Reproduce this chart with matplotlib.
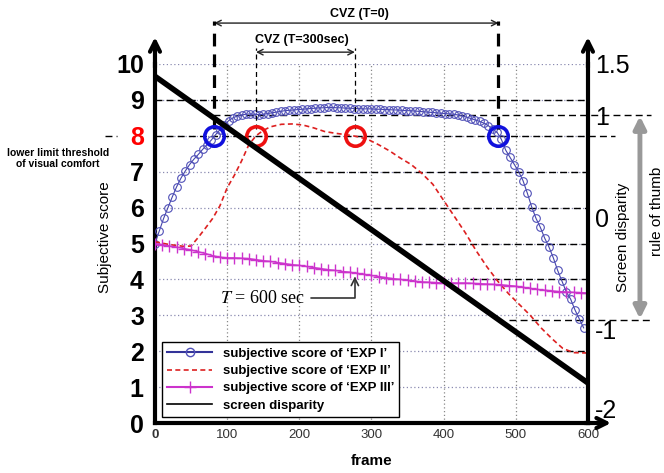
import numpy as np
import matplotlib
matplotlib.use('Agg')
import matplotlib.pyplot as plt
from matplotlib.lines import Line2D

plt.rcParams['font.family'] = ['Liberation Sans', 'DejaVu Sans']
plt.rcParams['mathtext.fontset'] = 'stix'

# EXP I : subjective score every 6 frames
exp1_frames = np.arange(0, 600, 6)
exp1_score = [5.00, 5.35, 5.70, 6.00, 6.30, 6.58, 6.82, 7.02, 7.20, 7.35,
              7.48, 7.62, 7.75, 7.88, 8.03, 8.17, 8.30, 8.42, 8.50, 8.55,
              8.58, 8.60, 8.61, 8.60, 8.59, 8.60, 8.62, 8.64, 8.66, 8.68,
              8.70, 8.71, 8.72, 8.73, 8.74, 8.75, 8.76, 8.77, 8.78, 8.78,
              8.79, 8.79, 8.78, 8.78, 8.77, 8.77, 8.76, 8.76, 8.75, 8.75,
              8.75, 8.74, 8.74, 8.73, 8.73, 8.72, 8.72, 8.71, 8.70, 8.70,
              8.69, 8.68, 8.67, 8.66, 8.65, 8.64, 8.63, 8.62, 8.61, 8.60,
              8.58, 8.55, 8.52, 8.48, 8.44, 8.40, 8.35, 8.28, 8.18, 8.10,
              7.90, 7.60, 7.40, 7.20, 7.00, 6.75, 6.40, 6.02, 5.70, 5.45,
              5.15, 4.90, 4.60, 4.25, 3.95, 3.65, 3.45, 3.15, 2.90, 2.65]

# EXP II
exp2_frames = [0, 20, 40, 50, 60, 70, 80, 90, 100, 110, 120, 130, 140, 150,
               160, 175, 190, 205, 220, 235, 250, 265, 280, 295, 310, 325,
               340, 355, 370, 385, 400, 415, 430, 445, 460, 475, 490, 505,
               520, 535, 550, 565, 580, 600]
exp2_score = [5.05, 4.97, 4.92, 4.93, 5.17, 5.43, 5.70, 6.05, 6.55, 6.90,
              7.30, 7.75, 8.00, 8.15, 8.25, 8.32, 8.33, 8.30, 8.22, 8.12,
              8.07, 8.03, 7.98, 7.90, 7.75, 7.58, 7.38, 7.20, 6.95, 6.65,
              6.20, 5.75, 5.30, 4.80, 4.35, 3.95, 3.60, 3.30, 3.00, 2.65,
              2.35, 2.08, 1.96, 1.95]

# EXP III : every 10 frames
exp3_frames = np.arange(0, 601, 10)
exp3_score = [5.00, 4.97, 4.93, 4.90, 4.86, 4.82, 4.77, 4.72, 4.66, 4.62,
              4.60, 4.60, 4.59, 4.58, 4.55, 4.52, 4.50, 4.47, 4.44, 4.41,
              4.39, 4.36, 4.33, 4.30, 4.27, 4.25, 4.22, 4.20, 4.17, 4.14,
              4.11, 4.08, 4.05, 4.02, 4.00, 3.98, 3.95, 3.93, 3.92, 3.91,
              3.90, 3.90, 3.90, 3.90, 3.89, 3.88, 3.87, 3.86, 3.85, 3.83,
              3.81, 3.78, 3.75, 3.72, 3.70, 3.68, 3.66, 3.65, 3.64, 3.63,
              3.62]

# screen disparity (right axis)
disp_frames = [0, 600]
disp_values = [1.38, -1.61]

# comfort-zone crossings
cvz0 = [82, 476]
cvz300 = [140, 277]
threshold = 8

fig = plt.figure(figsize=(6.64, 4.73), dpi=100)
ax = fig.add_axes([0.2334, 0.1057, 0.6521, 0.759])
ax2 = ax.twinx()

gridc = '#8a8ab0'
for v in range(1, 11):
    ax.axhline(v, color=gridc, ls=(0, (1, 2)), lw=0.9, zorder=0)
for f in range(100, 600, 100):
    ax.axvline(f, color='#888888', ls=(0, (1, 2)), lw=0.9, zorder=0)

# hand-drawn dashed guides
dash = dict(color='black', ls=(0, (5, 3)), lw=1.0, clip_on=False, zorder=1)
guides = [(9, 0, 600), (8.571, 80, 688), (8, 0, 637), (8, -69, -52),
          (7, 191, 600), (6, 256, 600), (5, 328, 600), (4, 436, 600),
          (2.857, 490, 688), (2, 554, 600)]
for yv, x0, x1 in guides:
    ax.plot([x0, x1], [yv, yv], **dash)

ax.plot(exp1_frames, exp1_score, color='#4444aa', lw=0.8, marker='o', ms=5.5,
        mfc='none', mec='#5050b8', mew=0.8, zorder=3)
ax.plot(exp2_frames, exp2_score, color='#dd2020', lw=1.2, ls=(0, (3, 2)), zorder=3)
ax.plot(exp3_frames, exp3_score, color='#cc33cc', lw=1.0, marker='+', ms=8,
        mew=1.0, zorder=3)
ax2.plot(disp_frames, disp_values, color='black', lw=4, zorder=4)

# crossing circles
ax.plot(cvz0, [threshold] * 2, 'o', ms=14, mfc='none', mec='#1010dd', mew=2.6,
        zorder=6, clip_on=False)
ax.plot(cvz300, [threshold] * 2, 'o', ms=14, mfc='none', mec='#ee1010', mew=2.6,
        zorder=6, clip_on=False)

# vertical guides and CVZ arrows
for f in cvz0:
    ax.plot([f, f], [threshold + 0.2, 11.2], color='black', ls=(0, (4, 2.5)),
            lw=2.3, clip_on=False, zorder=5)
for f in cvz300:
    ax.plot([f, f], [threshold + 0.2, 10.45], color='black', ls=(0, (4, 3)),
            lw=0.9, clip_on=False, zorder=5)
ax.annotate('', xy=(cvz0[0], 11.14), xytext=(cvz0[1], 11.14),
            arrowprops=dict(arrowstyle='<->', lw=1.0, color='#222222',
                            shrinkA=0, shrinkB=0), annotation_clip=False)
ax.annotate('', xy=(cvz300[0], 10.33), xytext=(cvz300[1], 10.33),
            arrowprops=dict(arrowstyle='<->', lw=1.0, color='#222222',
                            shrinkA=0, shrinkB=0), annotation_clip=False)
ax.text(284, 11.39, 'CVZ (T=0)', ha='center', va='center', fontsize=9,
        fontweight='bold', clip_on=False)
ax.text(204, 10.67, 'CVZ (T=300sec)', ha='center', va='center', fontsize=9,
        fontweight='bold', clip_on=False)

# T = 600 sec note
ax.annotate('$T$ = 600 sec', xy=(277, 4.12), xytext=(90, 3.48),
            ha='left', va='center', fontsize=13, family='Liberation Serif',
            arrowprops=dict(arrowstyle='->', lw=1.2, color='#333333',
                            connectionstyle='angle,angleA=0,angleB=90,rad=0',
                            shrinkA=2, shrinkB=1), zorder=7)

# axes limits, ticks
ax.set_xlim(0, 600)
ax.set_ylim(0, 10)
ax2.set_ylim(-2, 1.5)
ax.set_xticks(range(0, 601, 100))
ax.set_xticklabels(['0', '100', '200', '300', '400', '500', '600'])
ax.set_yticks(range(0, 11))
ax2.set_yticks([-2, -1, 0, 1, 1.5])
ax2.set_yticklabels(['-2', '-1', '0', '1', '1.5'])
ax.tick_params(axis='y', length=0, labelsize=18, pad=8)
ax.tick_params(axis='x', length=0, labelsize=9.5, labelcolor='#333333', pad=4)
ax2.tick_params(axis='y', length=0, labelsize=18, pad=5)
for lab in ax.get_yticklabels():
    lab.set_fontweight('bold')
ax.get_yticklabels()[8].set_color('red')
ax.get_xticklabels()[0].set_fontweight('bold')
ax2.get_yticklabels()[0].set_verticalalignment('bottom')
ax2.get_yticklabels()[1].set_verticalalignment('top')

for s in ['top', 'right']:
    ax.spines[s].set_visible(False)
for s in ['top', 'left', 'bottom']:
    ax2.spines[s].set_visible(False)
ax.spines['left'].set_linewidth(3)
ax.spines['bottom'].set_linewidth(3)
ax2.spines['right'].set_linewidth(3)

# axis arrows
arw = dict(arrowstyle='->', lw=3, color='black', mutation_scale=18, shrinkA=0, shrinkB=0)
ax.annotate('', xy=(0, 10.75), xytext=(0, 9.9), arrowprops=arw, annotation_clip=False)
ax.annotate('', xy=(600, 10.75), xytext=(600, 9.9), arrowprops=arw, annotation_clip=False)
ax.annotate('', xy=(632, 0), xytext=(595, 0), arrowprops=arw, annotation_clip=False)

ax.set_xlabel('frame', fontsize=11, fontweight='bold', labelpad=10)
fig.text(0.158, 0.499, 'Subjective score', rotation=90, ha='center', va='center',
         fontsize=11)
fig.text(0.938, 0.499, 'Screen disparity', rotation=90, ha='center', va='center',
         fontsize=11)
fig.text(0.989, 0.553, 'rule of thumb', rotation=90, ha='center', va='center',
         fontsize=11)
fig.text(0.087, 0.665, 'lower limit threshold\nof visual comfort', ha='center',
         va='center', fontsize=7.5, fontweight='bold', linespacing=1.2)

# rule of thumb arrow
ax.annotate('', xy=(672, 8.55), xytext=(672, 2.9),
            arrowprops=dict(arrowstyle='<|-|>', lw=3.5, color='#999999',
                            mutation_scale=18, shrinkA=0, shrinkB=0),
            annotation_clip=False)

handles = [
    Line2D([], [], color='#333399', lw=1.5, marker='o', ms=6, mfc='none', mec='#5050b8'),
    Line2D([], [], color='#dd2020', lw=1.2, ls=(0, (3, 2))),
    Line2D([], [], color='#cc33cc', lw=1.5, marker='+', ms=9),
    Line2D([], [], color='black', lw=1.2),
]
labels = ["subjective score of \u2018EXP I\u2019",
          "subjective score of \u2018EXP II\u2019",
          "subjective score of \u2018EXP III\u2019",
          'screen disparity']
leg = ax2.legend(handles, labels, loc='lower left', bbox_to_anchor=(0.016, 0.017),
                 borderaxespad=0, fancybox=False, edgecolor='black', framealpha=1,
                 prop=dict(size=9.5, weight='bold'), handlelength=3.4,
                 labelspacing=0.38, borderpad=0.4)
leg.get_frame().set_linewidth(1.0)
leg.set_zorder(10)

fig.savefig('out.png', dpi=100)
